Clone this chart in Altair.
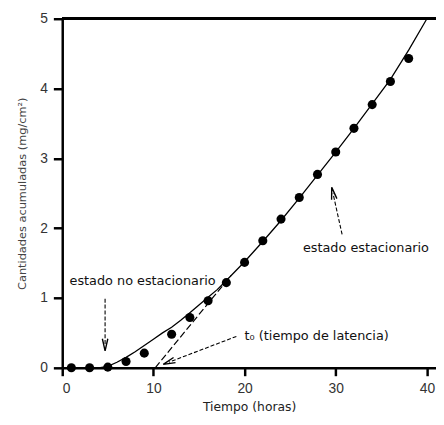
import altair as alt
import pandas as pd

# Measured data (points)
t_obs = [1, 3, 5, 7, 9, 12, 14, 16, 18, 20, 22, 24, 26, 28, 30, 32, 34, 36, 38]
q_obs = [0.0, 0.0, 0.01, 0.09, 0.21, 0.48, 0.72, 0.96, 1.22, 1.51, 1.82, 2.13, 2.44, 2.77, 3.09, 3.43, 3.77, 4.10, 4.43]

# Solid curve
t_curve = [0, 4.0, 5, 6, 7, 8, 9, 10, 11, 12, 13, 14, 15, 16, 17, 18, 20, 22, 24, 26, 28, 30, 32, 34, 36, 38, 40]
q_curve = [0, 0.0, 0.02, 0.08, 0.15, 0.23, 0.32, 0.41, 0.50, 0.58, 0.68, 0.79, 0.90, 1.01, 1.12, 1.25, 1.52, 1.81, 2.11, 2.43, 2.76, 3.09, 3.43, 3.78, 4.13, 4.55, 5.0]

# Dashed steady-state extrapolation
t_lag = [10.2, 18.5]
q_lag = [0.0, 1.32]

# Annotations
ann_text = ["estado no estacionario", "t\u2080 (tiempo de latencia)", "estado estacionario"]
ann_x = [0.8, 20.0, 26.4]
ann_y = [1.24, 0.46, 1.72]

# Arrows (start -> tip), head angle
arr_x1 = [4.7, 19.1, 30.7]
arr_y1 = [0.99, 0.45, 1.91]
arr_x2 = [4.7, 11.7, 29.7]
arr_y2 = [0.33, 0.08, 2.50]
arr_ang = [180, 249, 348]

X_MAX = 41.0
W, H = 379, 354

xs = alt.Scale(domain=[0, X_MAX], nice=False, zero=False)
ys = alt.Scale(domain=[0, 5], nice=False)

df_obs = pd.DataFrame({"t": t_obs, "q": q_obs})
df_curve = pd.DataFrame({"t": t_curve, "q": q_curve})
df_lag = pd.DataFrame({"t": t_lag, "q": q_lag})
df_ann = pd.DataFrame({"x": ann_x, "y": ann_y, "label": ann_text})
df_arr = pd.DataFrame({"x": arr_x1, "y": arr_y1, "x2": arr_x2, "y2": arr_y2, "ang": arr_ang})

LFONT = "Liberation Sans"
TFONT = "DejaVu Sans"

x_axis = alt.Axis(values=[0, 10, 20, 30, 40], format="d", title="Tiempo (horas)", grid=False,
                  domainColor="black", domainWidth=2.5, tickColor="black", tickWidth=2.5,
                  tickSize=8, labelFont=LFONT, labelFontSize=14, labelColor="#333",
                  titleFont=TFONT, titleFontSize=12.5, titleFontWeight="normal", titleColor="#222",
                  labelPadding=6, titlePadding=5)
y_axis = alt.Axis(values=[0, 1, 2, 3, 4, 5], format="d", title="Cantidades acumuladas (mg/cm\u00b2)", grid=False,
                  domainColor="black", domainWidth=2.5, tickColor="black", tickWidth=2.5,
                  tickSize=9, labelFont=LFONT, labelFontSize=14, labelColor="#333",
                  titleFont=TFONT, titleFontSize=11.5, titleFontWeight="normal", titleColor="#444444",
                  labelPadding=6, titlePadding=12)

curve = alt.Chart(df_curve).mark_line(color="black", strokeWidth=1.3, clip=True).encode(
    x=alt.X("t:Q", scale=xs, axis=x_axis),
    y=alt.Y("q:Q", scale=ys, axis=y_axis),
)

lag = alt.Chart(df_lag).mark_line(color="black", strokeWidth=1.2, strokeDash=[7, 3]).encode(
    x=alt.X("t:Q", scale=xs), y=alt.Y("q:Q", scale=ys)
)

pts = alt.Chart(df_obs).mark_circle(color="black", size=85, opacity=1).encode(
    x=alt.X("t:Q", scale=xs), y=alt.Y("q:Q", scale=ys)
)

top = alt.Chart(df_obs).mark_rule(color="black", strokeWidth=2.5).encode(
    x=alt.value(0), x2=alt.value(W), y=alt.value(0)
)

text = alt.Chart(df_ann).mark_text(align="left", baseline="middle", font=TFONT, fontSize=13, color="#111").encode(
    x=alt.X("x:Q", scale=xs), y=alt.Y("y:Q", scale=ys), text="label:N"
)

shafts = alt.Chart(df_arr).mark_rule(color="black", strokeWidth=1.1, strokeDash=[4, 2]).encode(
    x=alt.X("x:Q", scale=xs), y=alt.Y("y:Q", scale=ys), x2="x2:Q", y2="y2:Q"
)

heads = alt.Chart(df_arr).mark_point(shape="M-0.45,1 L0,-1 L0.45,1", filled=False, color="black",
                                     size=150, strokeWidth=1.4, opacity=1).encode(
    x=alt.X("x2:Q", scale=xs), y=alt.Y("y2:Q", scale=ys), angle=alt.Angle("ang:Q", scale=None)
)

chart = alt.layer(curve, lag, pts, shafts, heads, text, top).properties(
    width=W, height=H,
    autosize=alt.AutoSizeParams(type="none"),
    padding={"left": 55, "top": 8, "right": 0, "bottom": 47},
).configure_view(stroke=None).configure(background="white")

chart.save("out.html", embed_options={"renderer": "svg", "actions": False})
